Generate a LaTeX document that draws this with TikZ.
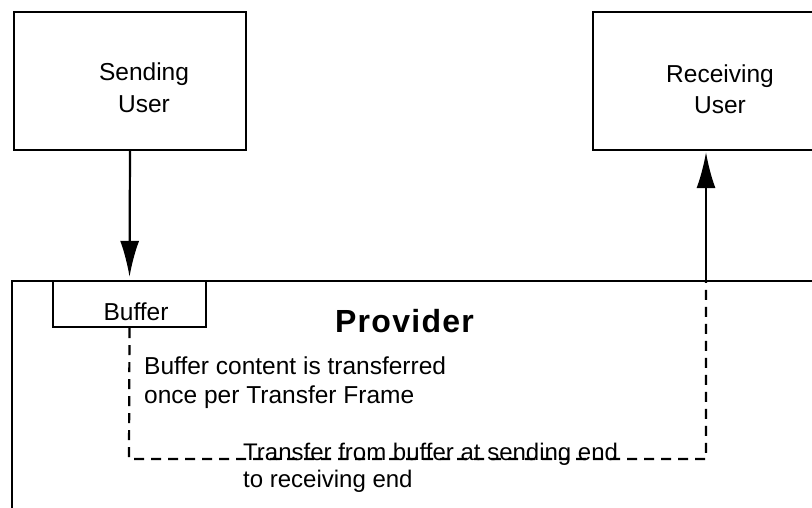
\documentclass[tikz,border=0pt]{standalone}
\usepackage{fontspec}
\setmainfont{Liberation Sans}
\usetikzlibrary{arrows.meta}
\begin{document}
\begin{tikzpicture}[x=1pt,y=-1pt,
  box/.style={draw,line width=2.2pt,rectangle,inner sep=0pt},
  txt/.style={inner sep=0pt,font=\fontsize{24.5}{29}\selectfont},
  arr/.style={line width=2.2pt,-{Latex[length=36pt,width=19pt]}},
  dashline/.style={line width=2.2pt,dash pattern=on 10pt off 7pt}]
\useasboundingbox (0,0) rectangle (812,507);
% boxes
\node[box,minimum width=232pt,minimum height=138pt] (su) at (130,81) {};
\node[box,minimum width=257pt,minimum height=138pt] (ru) at (721.5,81) {};
\node[box,minimum width=838pt,minimum height=280pt] (prov) at (431,421) {};
\node[box,minimum width=153pt,minimum height=46pt,fill=white] (buf) at (129.5,304) {};
% texts
\node[txt,align=center,font=\fontsize{24.5}{32}\selectfont] (sut) at (144,88) {Sending\\User};
\node[txt,align=center,font=\fontsize{24.5}{31}\selectfont] (rut) at (720,89) {Receiving\\User};
\node[txt,anchor=base] (buft) at (136,320) {Buffer};
\node[inner sep=0pt,anchor=base,font=\fontsize{32}{36}\selectfont\bfseries\addfontfeature{LetterSpace=4}] (provt) at (404.5,332) {Provider};
% connectors
\coordinate (p1) at (706,281);
\coordinate (c1) at (129,459);
\coordinate (c2) at (706,459);
\draw[arr,shorten >=3pt] (su.south) -- (buf.north);
\draw[arr,shorten >=1pt] (p1) -- (p1 |- ru.south);
\draw[dashline] (buf.south) -- (c1) -- (c2) -- (p1);
\node[txt,align=left,anchor=west] (note1) at (144,383) {Buffer content is transferred\\once per Transfer Frame};
\node[txt,align=left,anchor=west,font=\fontsize{24}{27}\selectfont] (note2) at (243,468) {Transfer from buffer at sending end\\to receiving end};
\end{tikzpicture}
\end{document}
